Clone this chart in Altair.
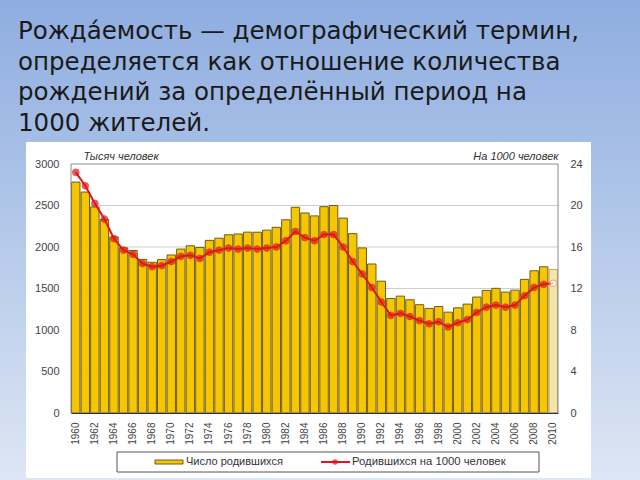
import altair as alt
import pandas as pd

# ---- data ----
years = list(range(1960, 2011))
births = [2782, 2662, 2482, 2331, 2121, 1990, 1958, 1851, 1816, 1848,
          1904, 1975, 2015, 1995, 2080, 2106, 2147, 2157, 2179, 2178,
          2203, 2237, 2328, 2478, 2410, 2375, 2486, 2500, 2348, 2161,
          1989, 1795, 1588, 1379, 1408, 1364, 1305, 1260, 1283, 1215,
          1267, 1312, 1397, 1477, 1502, 1457, 1480, 1610, 1714, 1762,
          1730]
rates = [23.2, 21.9, 20.2, 18.7, 16.8, 15.7, 15.3, 14.4, 14.1, 14.2,
         14.6, 15.1, 15.2, 14.9, 15.5, 15.7, 15.9, 15.8, 15.9, 15.8,
         15.9, 16.0, 16.6, 17.5, 16.9, 16.6, 17.2, 17.2, 16.0, 14.6,
         13.4, 12.1, 10.7, 9.4, 9.6, 9.3, 8.9, 8.6, 8.8, 8.3,
         8.7, 9.0, 9.7, 10.2, 10.4, 10.2, 10.4, 11.3, 12.1, 12.4,
         12.5]
title_lines = ["Рожда\u0301емость — демографический термин,",
               "определяется как отношение количества",
               "рождений за определённый период на",
               "1000 жителей."]
left_ticks = [0, 500, 1000, 1500, 2000, 2500, 3000]
right_ticks = [0, 4, 8, 12, 16, 20, 24]
year_labels = list(range(1960, 2011, 2))
legend_bar = "Число родившихся"
legend_line = "Родившихся на 1000 человек"

df = pd.DataFrame({"year": years, "births": births, "rate": rates})
grid_df = pd.DataFrame({"v": left_ticks[1:-1]})
one = pd.DataFrame({"a": [0]})

# ---- layout (plot area in page pixels) ----
L, T, W, H = 71, 164, 487, 249
FONT = "Liberation Sans"
GOLD, OLIVE = "#F6C700", "#6E5C1A"
PALE, PALE_ST = "#F3E5A8", "#BCAA6A"
RED = "#E3141B"
prelim = "datum.year == 2010"

bg = alt.Chart(one).mark_rect(
    fill=alt.Gradient(gradient="linear",
                      stops=[alt.GradientStop(color="#8EADE0", offset=0),
                             alt.GradientStop(color="#DDE6F4", offset=1)],
                      x1=0, x2=0, y1=0, y2=1)
).encode(x=alt.value(-L), x2=alt.value(640 - L), y=alt.value(-T), y2=alt.value(480 - T))

panel = alt.Chart(one).mark_rect(fill="white").encode(
    x=alt.value(26 - L), x2=alt.value(591 - L), y=alt.value(142 - T), y2=alt.value(478 - T))

title = alt.Chart(one).mark_text(
    text=title_lines, align="left", baseline="top", fontSize=24.5, lineHeight=30.5,
    font="DejaVu Sans", color="#1A1A1A"
).encode(x=alt.value(18 - L), y=alt.value(20 - T))

grid = alt.Chart(grid_df).mark_rule(color="#CFCFCF", strokeWidth=1).encode(
    y=alt.Y("v:Q", scale=alt.Scale(domain=[0, 3000], nice=False), axis=None),
    x=alt.value(0), x2=alt.value(W))

frame = alt.Chart(one).mark_rect(fill=None, stroke="#8A8A8A", strokeWidth=1).encode(
    x=alt.value(0), x2=alt.value(W), y=alt.value(0), y2=alt.value(H))

xenc = alt.X("year:O", scale=alt.Scale(paddingInner=0.12, paddingOuter=0.06),
             axis=alt.Axis(values=year_labels, labelAngle=270, ticks=False, labelPadding=9,
                           labelFontSize=10, labelColor="#444", labelFont=FONT,
                           domainColor="#333", title=None, zindex=1))

bars = alt.Chart(df).mark_bar(strokeWidth=1).encode(
    x=xenc,
    y=alt.Y("births:Q", scale=alt.Scale(domain=[0, 3000], nice=False),
            axis=alt.Axis(values=left_ticks, format="d", title="Тысяч человек", titleAngle=0,
                          titleAlign="left", titleBaseline="bottom", titleX=12, titleY=-3,
                          titleFontStyle="italic", titleFontWeight="normal", titleFontSize=11,
                          titleColor="#333", titleFont=FONT,
                          labelPadding=12, ticks=False, domain=False, grid=False,
                          labelFontSize=11, labelColor="#444", labelFont=FONT, zindex=1)),
    fill=alt.condition(prelim, alt.value(PALE), alt.value(GOLD)),
    stroke=alt.condition(prelim, alt.value(PALE_ST), alt.value(OLIVE)),
)

yrate = alt.Y("rate:Q", scale=alt.Scale(domain=[0, 24], nice=False),
              axis=alt.Axis(orient="right", values=right_ticks, format="d",
                            title="На 1000 человек",
                            titleAngle=0, titleAlign="right", titleBaseline="bottom",
                            titleX=0, titleY=-3, titleFontStyle="italic",
                            titleFontWeight="normal", titleFontSize=11, titleColor="#333",
                            titleFont=FONT, labelPadding=12, ticks=False, domain=False,
                            grid=False, labelFontSize=11, labelColor="#444", labelFont=FONT,
                            zindex=1))
line = alt.Chart(df).mark_line(color=RED, strokeWidth=2).encode(x=xenc, y=yrate)
points = alt.Chart(df).mark_point(filled=True, size=45, shape="circle", strokeWidth=1).encode(
    x=xenc, y=yrate,
    fill=alt.condition(prelim, alt.value("#FFFFFF"), alt.value(RED)),
    stroke=alt.condition(prelim, alt.value("#F08080"), alt.value(RED)),
)
rate_layer = alt.layer(line, points)

# ---- legend ----
lg_box = alt.Chart(one).mark_rect(fill="white", stroke="#555", strokeWidth=1).encode(
    x=alt.value(46), x2=alt.value(468), y=alt.value(288), y2=alt.value(308))
lg_sw = alt.Chart(one).mark_rect(fill=GOLD, stroke=OLIVE, strokeWidth=1).encode(
    x=alt.value(84), x2=alt.value(112), y=alt.value(296), y2=alt.value(300))
lg_t1 = alt.Chart(one).mark_text(text=legend_bar, align="left", baseline="middle",
                                 fontSize=11, font=FONT, color="#333").encode(
    x=alt.value(115), y=alt.value(298))
lg_ln = alt.Chart(one).mark_rule(color=RED, strokeWidth=2).encode(
    x=alt.value(250), x2=alt.value(279), y=alt.value(298))
lg_pt = alt.Chart(one).mark_point(filled=True, color=RED, size=30, shape="circle").encode(
    x=alt.value(264), y=alt.value(298))
lg_t2 = alt.Chart(one).mark_text(text=legend_line, align="left", baseline="middle",
                                 fontSize=11.3, font=FONT, color="#333").encode(
    x=alt.value(281), y=alt.value(298))

chart = alt.layer(
    bg, panel, title, grid, bars, rate_layer, frame,
    lg_box, lg_sw, lg_t1, lg_ln, lg_pt, lg_t2
).resolve_scale(y="independent").properties(
    width=W, height=H,
    padding={"left": L, "top": T, "right": 640 - L - W, "bottom": 480 - T - H},
    autosize=alt.AutoSizeParams(type="none"),
    background="#94B1E1",
).configure_view(stroke=None)

chart.save("out.html", embed_options={"renderer": "svg", "actions": False})
